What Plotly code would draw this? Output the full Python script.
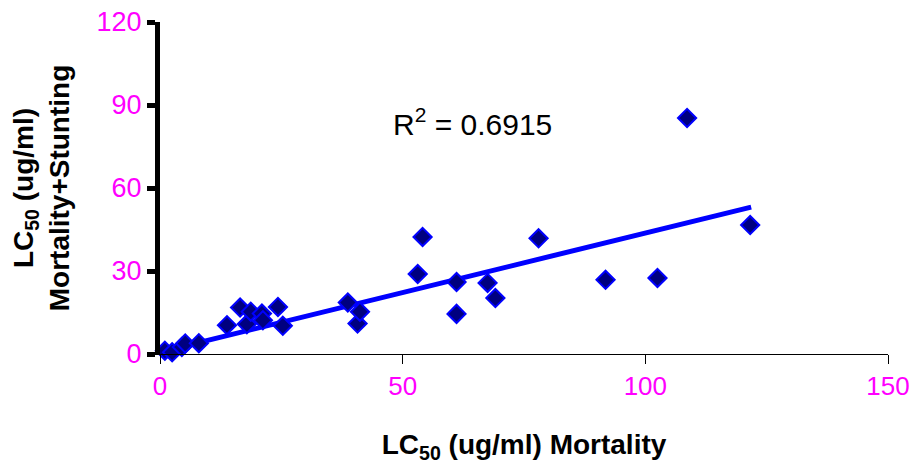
import plotly.graph_objects as go

mortality = [1.0, 2.5, 4.5, 5.2, 8.0, 13.8, 16.5, 17.9, 18.7, 21.0, 21.2, 24.3, 25.3,
             38.7, 40.7, 41.2, 53.1, 54.1, 61.1, 61.1, 67.5, 69.1, 78.0, 91.8, 102.5, 108.6, 121.6]
mort_stunt = [1.2, 0.6, 2.5, 3.8, 3.9, 10.4, 16.8, 10.8, 15.3, 14.6, 12.2, 17.0, 10.2,
              18.6, 11.0, 15.3, 28.9, 42.3, 26.0, 14.5, 25.7, 20.2, 41.8, 26.8, 27.5, 85.3, 46.6]
trend_x = [0, 121.8]
trend_y = [0.7, 53.1]
r2_text = "R<sup>2</sup> = 0.6915"

x_ticks = [0, 50, 100, 150]
y_ticks = [0, 30, 60, 90, 120]

FONT = "Liberation Sans, Arial, sans-serif"
MAGENTA = "#FF00FF"

fig = go.Figure()
fig.add_trace(go.Scatter(
    x=trend_x, y=trend_y, mode="lines",
    line=dict(color="#0000FF", width=5), showlegend=False, hoverinfo="skip"))
fig.add_trace(go.Scatter(
    x=mortality, y=mort_stunt, mode="markers",
    marker=dict(symbol="diamond", size=14, color="#000080",
                line=dict(color="#0000FF", width=2)),
    showlegend=False, cliponaxis=False))

fig.add_annotation(x=64.3, y=84.0, xref="x", yref="y", text=r2_text,
                   showarrow=False, font=dict(family=FONT, size=30, color="black"))

fig.update_layout(
    width=912, height=470,
    margin=dict(l=160, r=24, t=22, b=116),
    paper_bgcolor="white", plot_bgcolor="white",
    font=dict(family=FONT),
    xaxis=dict(
        range=[0, 150], tickvals=x_ticks, showgrid=False, zeroline=False,
        automargin=False,
        showline=True, linecolor="black", linewidth=1,
        ticks="outside", ticklen=9, tickwidth=1, tickcolor="black",
        tickfont=dict(family=FONT, size=26, color=MAGENTA),
        title=dict(text="<b>LC<sub>50</sub> (ug/ml) Mortality</b>",
                   font=dict(family=FONT, size=28, color="black"), standoff=34),
    ),
    yaxis=dict(
        range=[0, 120], tickvals=y_ticks, showgrid=False, zeroline=False,
        automargin=False,
        showline=True, linecolor="black", linewidth=5,
        ticks="outside", ticklen=8, tickwidth=5, tickcolor="black",
        tickfont=dict(family=FONT, size=27, color=MAGENTA),
        title=dict(text="<b>LC<sub>50</sub> (ug/ml)<br>Mortality+Stunting</b>",
                   font=dict(family=FONT, size=28, color="black"), standoff=20),
    ),
)

fig.write_html("out.html")
